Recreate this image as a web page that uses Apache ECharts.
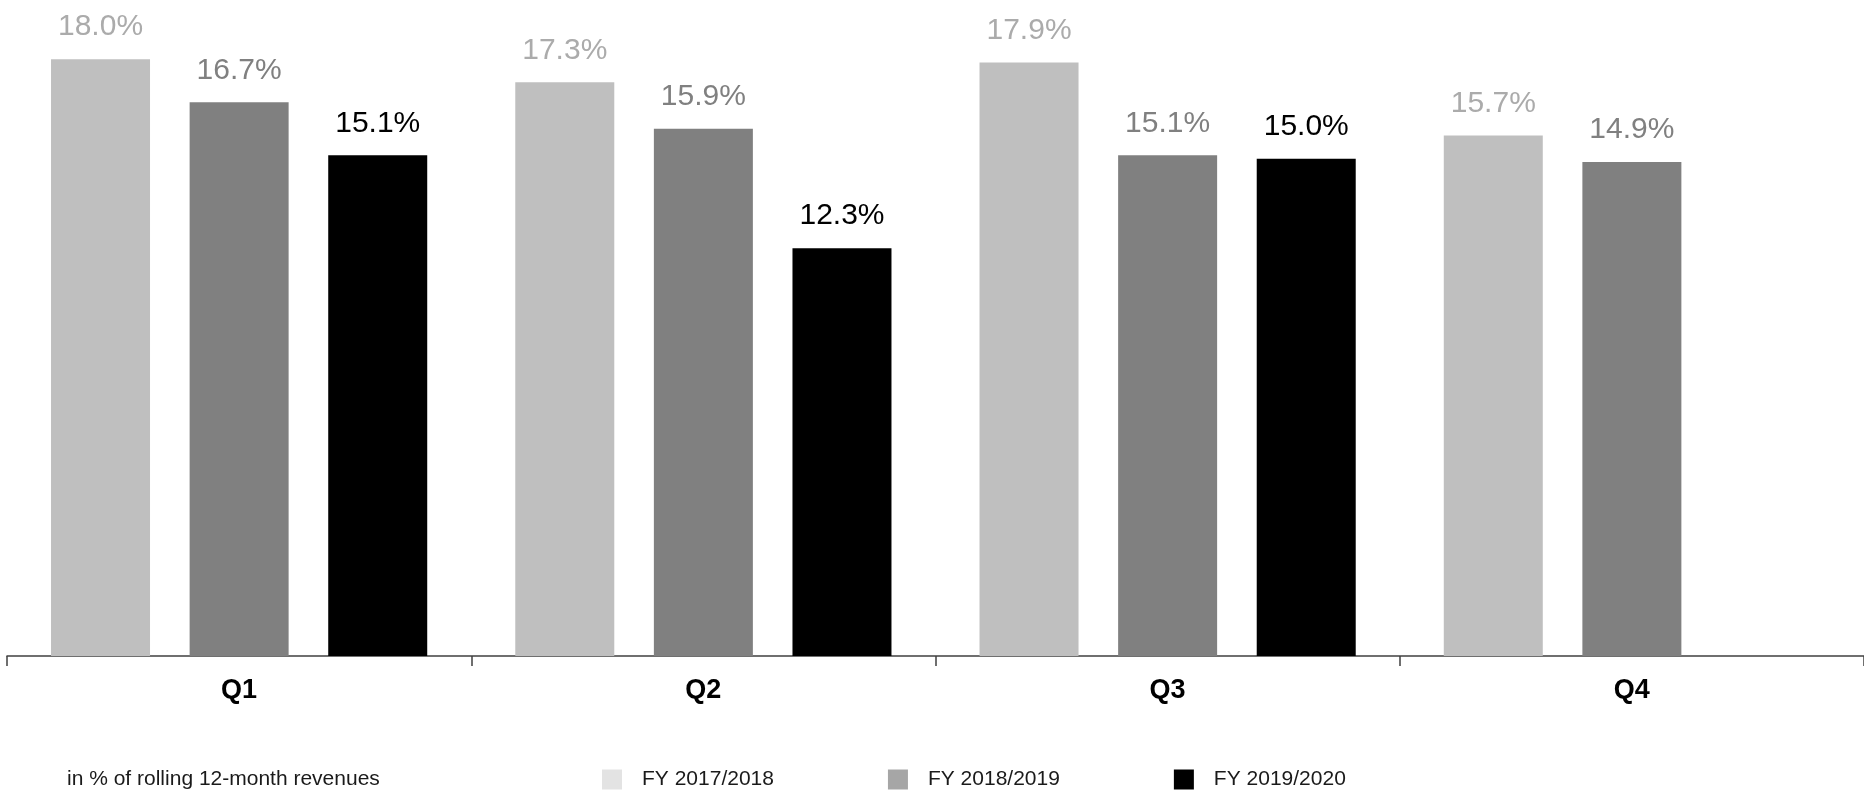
<!DOCTYPE html>
<html>
<head>
<meta charset="utf-8">
<script src="https://cdn.jsdelivr.net/npm/echarts@6/dist/echarts.min.js"></script>
<style>html,body{margin:0;padding:0;background:#fff}#c{width:1864px;height:794px}</style>
</head>
<body>
<div id="c"></div>
<script>
const categories = ['Q1', 'Q2', 'Q3', 'Q4'];
const seriesNames = ['FY 2017/2018', 'FY 2018/2019', 'FY 2019/2020'];
const fy1718 = [18.0, 17.3, 17.9, 15.7];
const fy1819 = [16.7, 15.9, 15.1, 14.9];
const fy1920 = [15.1, 12.3, 15.0, null];
const note = 'in % of rolling 12-month revenues';

const barColors = ['#BFBFBF', '#808080', '#000000'];
const labelColors = ['#ABABAB', '#808080', '#000000'];
const legendColors = ['#E3E3E3', '#A6A6A6', '#000000'];
const values = [fy1718, fy1819, fy1920];
const FONT = 'Liberation Sans, Arial, sans-serif';

const chart = echarts.init(document.getElementById('c'), null, {renderer: 'canvas'});
chart.setOption({
  animation: false,
  backgroundColor: '#ffffff',
  title: {
    text: note, left: 67, top: 769, padding: 0,
    textStyle: {fontFamily: FONT, fontSize: 21, fontWeight: 'normal', color: '#1a1a1a'}
  },
  legend: {
    left: 602, top: 769, padding: 0, itemWidth: 20, itemHeight: 20, itemGap: 114,
    icon: 'rect',
    textStyle: {fontFamily: FONT, fontSize: 21, color: '#1a1a1a', padding: [0, 0, 0, 15]},
    data: seriesNames.map((n, i) => ({name: n, itemStyle: {color: legendColors[i]}}))
  },
  grid: {left: 7, right: 0, top: 26, bottom: 138, containLabel: false},
  xAxis: {
    type: 'category', data: categories,
    axisLine: {lineStyle: {color: '#404040', width: 1.5}},
    axisTick: {show: true, length: 10, lineStyle: {color: '#404040', width: 1.5}},
    axisLabel: {fontFamily: FONT, fontSize: 27, fontWeight: 'bold', color: '#000', margin: 21}
  },
  yAxis: {type: 'value', min: 0, max: 19, show: false, splitLine: {show: false}},
  series: seriesNames.map((n, i) => ({
    name: n, type: 'bar', data: values[i],
    barWidth: 99, barGap: '40%',
    itemStyle: {color: barColors[i]},
    label: {
      show: true, position: 'top', distance: 17,
      formatter: p => p.value.toFixed(1) + '%',
      fontFamily: FONT, fontSize: 30, color: labelColors[i]
    }
  }))
});
</script>
</body>
</html>
